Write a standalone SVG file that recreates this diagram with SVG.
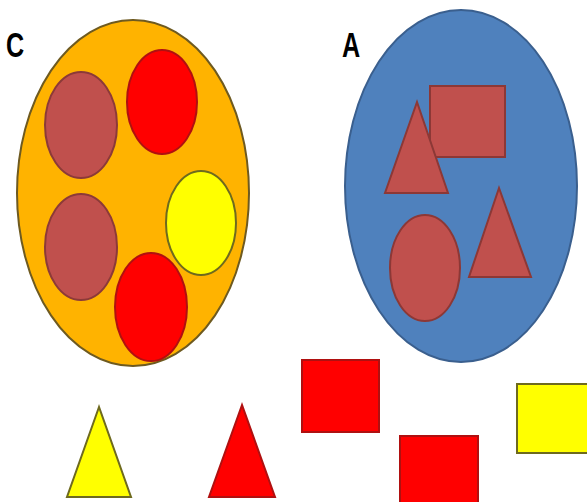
<svg xmlns="http://www.w3.org/2000/svg" width="587" height="502" viewBox="0 0 587 502">
<style>
.lbl{font-family:"Liberation Sans",Arial,sans-serif;font-weight:bold;font-size:36px;fill:#000}
.brown{fill:#C0504D;stroke:#8C3A38;stroke-width:2}
.red{fill:#FF0000;stroke:#B01010;stroke-width:2}
.yel{fill:#FFFF00;stroke:#6E6A1E;stroke-width:2}
.inA{fill:#C0504D;stroke:#8C3836;stroke-width:2}
</style>
<rect width="587" height="502" fill="#fff"/>
<g id="setC">
<ellipse cx="133" cy="193" rx="116" ry="173" fill="#FFB300" stroke="#6E5A20" stroke-width="2"/>
<ellipse class="brown" cx="81" cy="125" rx="36" ry="53"/>
<ellipse class="red" cx="162" cy="102" rx="35" ry="52"/>
<ellipse class="yel" cx="201" cy="223" rx="35" ry="52"/>
<ellipse class="brown" cx="81" cy="247" rx="36" ry="53"/>
<ellipse class="red" cx="151" cy="307" rx="36" ry="54"/>
<text class="lbl" transform="translate(6,57) scale(0.7,1)">C</text>
</g>
<g id="setA">
<ellipse cx="461" cy="186" rx="116" ry="176" fill="#4F81BD" stroke="#3A5F8E" stroke-width="2"/>
<rect class="inA" x="430" y="86" width="75" height="71"/>
<polygon class="inA" points="417,102 385,193 448,193"/>
<polygon class="inA" points="499,188 469,277 531,277"/>
<ellipse class="inA" cx="425" cy="268" rx="35" ry="53"/>
<text class="lbl" transform="translate(342,57) scale(0.7,1)">A</text>
</g>
<g id="loose">
<polygon class="yel" points="99,407 67,497 131,497"/>
<polygon class="red" points="242,405 209,497 275,497"/>
<rect class="red" x="302" y="360" width="77" height="72"/>
<rect class="red" x="400" y="436" width="78" height="70"/>
<rect class="yel" x="517" y="384" width="75" height="69"/>
</g>
<g id="connectors"/>
</svg>
